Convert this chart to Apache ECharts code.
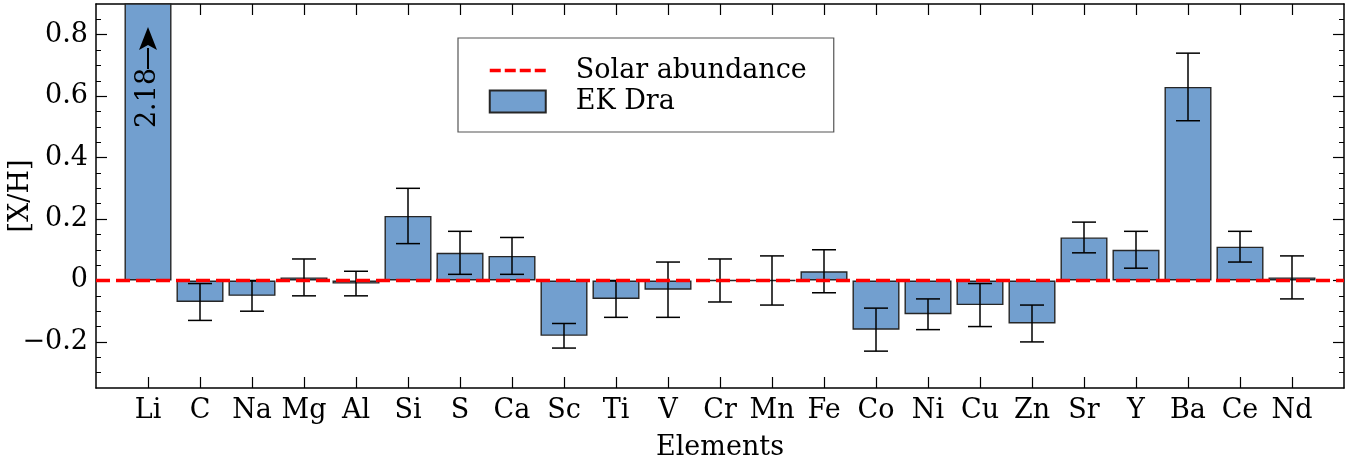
<!DOCTYPE html>
<html>
<head>
<meta charset="utf-8">
<script src="https://cdn.jsdelivr.net/npm/echarts@6/dist/echarts.min.js"></script>
<style>
html,body{margin:0;padding:0;background:#fff;}
#chart{width:1359px;height:464px;}
</style>
</head>
<body>
<div id="chart"></div>
<script>
// ---- data ----
const elements = ['Li','C','Na','Mg','Al','Si','S','Ca','Sc','Ti','V','Cr','Mn','Fe','Co','Ni','Cu','Zn','Sr','Y','Ba','Ce','Nd'];
const abundance = [2.18,-0.07,-0.05,0.01,-0.01,0.21,0.09,0.08,-0.18,-0.06,-0.03,0.00,0.00,0.03,-0.16,-0.11,-0.08,-0.14,0.14,0.10,0.63,0.11,0.01];
const abundanceErr = [null,0.06,0.05,0.06,0.04,0.09,0.07,0.06,0.04,0.06,0.09,0.07,0.08,0.07,0.07,0.05,0.07,0.06,0.05,0.06,0.11,0.05,0.07];
const solarLevel = 0;
const yMajorTicks = [-0.2,0,0.2,0.4,0.6,0.8];
const yMinorTicks = [-0.3,-0.25,-0.15,-0.1,-0.05,0.05,0.1,0.15,0.25,0.3,0.35,0.45,0.5,0.55,0.65,0.7,0.75,0.85];
const yRange = [-0.35, 0.9];
const xRange = [-1, elements.length];
const liLabel = '2.18';

// ---- build ----
const FONT = 'DejaVu Serif';
const FS = 27;
const xTickVals = elements.map((_, i) => i);
const barData = abundance.map((v, i) => [i, v]);
const errData = [];
abundance.forEach((v, i) => {
  if (abundanceErr[i] != null) errData.push([i, v - abundanceErr[i], v + abundanceErr[i]]);
});

function fmtY(v) {
  const r = Math.round(v * 10) / 10;
  if (r === 0) return '0';
  return r.toFixed(1).replace('-', '\u2212');
}

const frameLine = { show: true, onZero: false, lineStyle: { color: '#000', width: 1.5 } };
const solarDash = [14, 6];

const option = {
  animation: false,
  backgroundColor: '#fff',
  textStyle: { fontFamily: FONT },
  grid: { left: 96, right: 15, top: 4, bottom: 76, containLabel: false, outerBoundsMode: 'none' },
  legend: {
    orient: 'vertical',
    left: 458,
    top: 38,
    padding: [19, 27, 17, 30],
    itemGap: 4,
    itemWidth: 56,
    itemHeight: 22,
    backgroundColor: '#fff',
    borderColor: '#555',
    borderWidth: 1.2,
    borderRadius: 0,
    data: [
      { name: 'Solar abundance', itemStyle: { opacity: 0 }, lineStyle: { color: '#ff0000', width: 3.5, type: [11, 4] } },
      { name: 'EK Dra', icon: 'rect' }
    ],
    textStyle: { fontFamily: FONT, fontSize: FS, color: '#000', padding: [0, 0, 0, 25] }
  },
  xAxis: [
    {
      type: 'value', position: 'bottom', min: xRange[0], max: xRange[1],
      axisLine: frameLine,
      axisTick: { show: true, inside: true, length: 11, customValues: xTickVals, lineStyle: { color: '#000', width: 1.2 } },
      axisLabel: { show: true, customValues: xTickVals, margin: 9, fontFamily: FONT, fontSize: FS, color: '#000',
        formatter: v => elements[Math.round(v)] || '' },
      splitLine: { show: false },
      name: 'Elements', nameLocation: 'middle', nameGap: 46, nameMoveOverlap: false,
      nameTextStyle: { fontFamily: FONT, fontSize: FS, color: '#000' }
    },
    {
      type: 'value', position: 'top', min: xRange[0], max: xRange[1],
      axisLine: frameLine,
      axisTick: { show: true, inside: true, length: 11, customValues: xTickVals, lineStyle: { color: '#000', width: 1.2 } },
      axisLabel: { show: false },
      splitLine: { show: false }
    }
  ],
  yAxis: [
    {
      type: 'value', position: 'left', min: yRange[0], max: yRange[1],
      axisLine: frameLine,
      axisTick: { show: true, inside: true, length: 11, customValues: yMajorTicks, lineStyle: { color: '#000', width: 1.2 } },
      axisLabel: { show: true, customValues: yMajorTicks, margin: 8, fontFamily: FONT, fontSize: FS, color: '#000', formatter: fmtY },
      splitLine: { show: false },
      name: '[X/H]', nameLocation: 'middle', nameGap: 62, nameRotate: 90, nameMoveOverlap: false,
      nameTextStyle: { fontFamily: FONT, fontSize: FS, color: '#000' }
    },
    {
      type: 'value', position: 'left', min: yRange[0], max: yRange[1],
      axisLine: { show: false, onZero: false },
      axisTick: { show: true, inside: true, length: 5, customValues: yMinorTicks, lineStyle: { color: '#000', width: 1 } },
      axisLabel: { show: false },
      splitLine: { show: false }
    },
    {
      type: 'value', position: 'right', min: yRange[0], max: yRange[1],
      axisLine: frameLine,
      axisTick: { show: true, inside: true, length: 11, customValues: yMajorTicks, lineStyle: { color: '#000', width: 1.2 } },
      axisLabel: { show: false },
      splitLine: { show: false }
    },
    {
      type: 'value', position: 'right', min: yRange[0], max: yRange[1],
      axisLine: { show: false, onZero: false },
      axisTick: { show: true, inside: true, length: 5, customValues: yMinorTicks, lineStyle: { color: '#000', width: 1 } },
      axisLabel: { show: false },
      splitLine: { show: false }
    }
  ],
  series: [
    {
      name: 'EK Dra',
      type: 'bar',
      xAxisIndex: 0, yAxisIndex: 0,
      data: barData,
      barWidth: 47,
      clip: true,
      z: 2,
      itemStyle: { color: '#729fcf', borderColor: '#262626', borderWidth: 1.4 }
    },
    {
      name: 'errors',
      type: 'custom',
      xAxisIndex: 0, yAxisIndex: 0,
      data: errData,
      z: 3,
      clip: true,
      renderItem: function (params, api) {
        const x = api.value(0);
        const pLo = api.coord([x, api.value(1)]);
        const pHi = api.coord([x, api.value(2)]);
        const hw = 12;
        const st = { stroke: '#000', lineWidth: 1.5 };
        return {
          type: 'group',
          children: [
            { type: 'line', shape: { x1: pLo[0], y1: pLo[1], x2: pHi[0], y2: pHi[1] }, style: st },
            { type: 'line', shape: { x1: pLo[0] - hw, y1: pLo[1], x2: pLo[0] + hw, y2: pLo[1] }, style: st },
            { type: 'line', shape: { x1: pHi[0] - hw, y1: pHi[1], x2: pHi[0] + hw, y2: pHi[1] }, style: st }
          ]
        };
      }
    },
    {
      name: 'Solar abundance',
      type: 'line',
      xAxisIndex: 0, yAxisIndex: 0,
      data: [[xRange[0], solarLevel], [xRange[1], solarLevel]],
      symbol: 'none',
      showSymbol: false,
      z: 4,
      itemStyle: { color: '#ff0000' },
      lineStyle: { color: '#ff0000', width: 3.5, type: solarDash }
    },
    {
      name: 'liNote',
      type: 'custom',
      xAxisIndex: 0, yAxisIndex: 0,
      data: [[0, yRange[1]]],
      z: 5,
      clip: false,
      renderItem: function (params, api) {
        const top = api.coord([api.value(0), api.value(1)]);
        const cx = top[0];
        const textCy = top[1] + 94;
        const shaftBottom = textCy - 29;
        const headBase = top[1] + 42;
        const tip = top[1] + 23;
        return {
          type: 'group',
          children: [
            { type: 'text', x: cx, y: textCy, rotation: Math.PI / 2,
              style: { text: liLabel, fontFamily: FONT, fontSize: FS, fill: '#000', align: 'center', verticalAlign: 'middle' } },
            { type: 'line', shape: { x1: cx, y1: shaftBottom, x2: cx, y2: headBase + 2 }, style: { stroke: '#000', lineWidth: 2 } },
            { type: 'polygon', shape: { points: [[cx, tip], [cx - 9, headBase + 4], [cx, headBase - 1], [cx + 9, headBase + 4]] }, style: { fill: '#000' } }
          ]
        };
      }
    }
  ]
};

const chart = echarts.init(document.getElementById('chart'), null, { renderer: 'canvas' });
chart.setOption(option);
</script>
</body>
</html>
